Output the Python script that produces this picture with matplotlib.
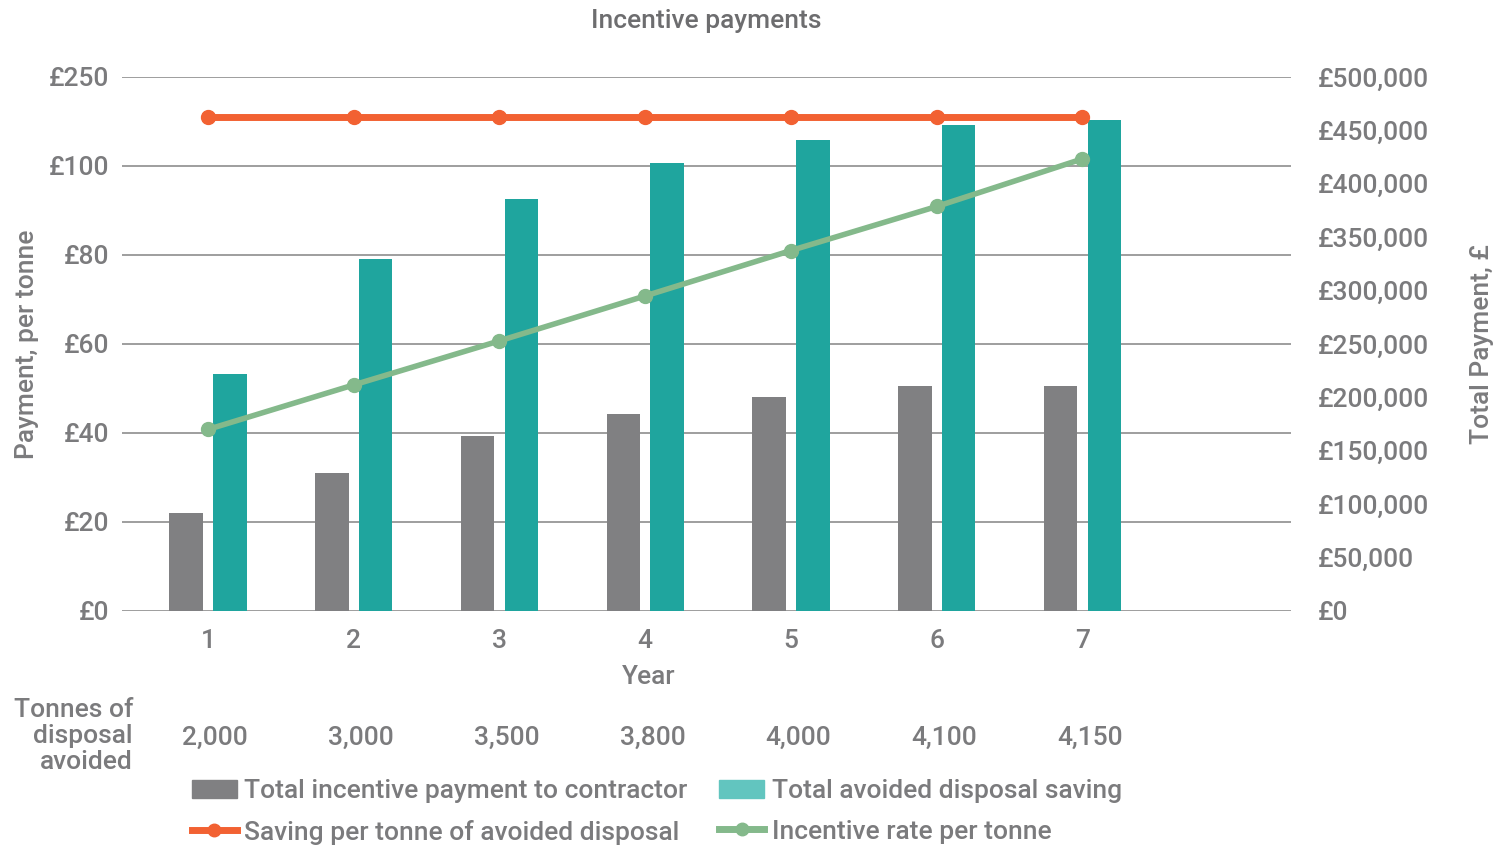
import numpy as np
import matplotlib
matplotlib.use("Agg")
import matplotlib.pyplot as plt
from matplotlib.lines import Line2D
from matplotlib.patches import Patch

plt.rcParams['font.family'] = ['Roboto', 'DejaVu Sans']
plt.rcParams['font.weight'] = 'medium'
plt.rcParams['axes.labelweight'] = 'medium'
plt.rcParams['axes.titleweight'] = 'medium'

years = ['1', '2', '3', '4', '5', '6', '7']
tonnes = ['2,000', '3,000', '3,500', '3,800', '4,000', '4,100', '4,150']
incentive_total = [92000, 129500, 164000, 184000, 200000, 210500, 210500]
saving_total = [222000, 330000, 386000, 419000, 441000, 455000, 460000]
saving_per_tonne = [111, 111, 111, 111, 111, 111, 111]
incentive_rate = [40.8, 50.8, 60.7, 70.8, 81.0, 90.9, 101.6]

left_ticks = [0, 20, 40, 60, 80, 100, 120]
left_labels = ['£0', '£20', '£40', '£60', '£80', '£100', '£250']
right_ticks = list(range(0, 500001, 50000))
right_labels = ['£{:,}'.format(v) for v in right_ticks]

GRAY = '#808082'
TEAL = '#1fa59e'
TEAL_LEG = '#62c5bf'
ORANGE = '#f26132'
GREEN = '#84b98b'
TXT = '#7b7b7d'
FS = 19

fig = plt.figure(figsize=(15, 8.46), dpi=100)
ax = fig.add_axes([0.0813, 0.2778, 0.7793, 0.6312])
x = np.arange(len(years))

# left axis: gridlines + labels
ax.set_ylim(0, 120)
ax.set_xlim(-0.59, 7.43)
ax.set_yticks(left_ticks)
ax.set_yticklabels(left_labels)
ax.yaxis.grid(True, color='#8e8e8e', linewidth=1.2)
ax.set_axisbelow(True)
for s in ax.spines.values():
    s.set_visible(False)
ax.tick_params(length=0, labelsize=FS, labelcolor=TXT, pad=9)
ax.tick_params(axis='x', pad=13)
ax.set_xticks(x)
ax.set_xticklabels(years)
ax.set_ylabel('Payment, per tonne', fontsize=FS, color=TXT, labelpad=7)
ax.set_xlabel('Year', fontsize=FS, color=TXT)
ax.xaxis.set_label_coords(0.451, -0.102)

# right axis: bars
ax2 = ax.twinx()
ax2.set_ylim(0, 500000)
w = 0.23
ax2.bar(x - 0.15, incentive_total, width=w, color=GRAY)
ax2.bar(x + 0.15, saving_total, width=w, color=TEAL)
ax2.set_yticks(right_ticks)
ax2.set_yticklabels(right_labels)
ax2.tick_params(length=0, labelsize=FS, labelcolor=TXT, pad=19)
for s in ax2.spines.values():
    s.set_visible(False)
ax2.set_ylabel('Total Payment, £', fontsize=FS, color=TXT, labelpad=30)

# lines on top
ax3 = ax.twinx()
ax3.set_ylim(0, 120)
ax3.axis('off')
ax3.plot(x, saving_per_tonne, color=ORANGE, linewidth=5, marker='o', markersize=10)
ax3.plot(x, incentive_rate, color=GREEN, linewidth=4, marker='o', markersize=10)

# tonnes row
fig.text(133 / 1500, 1 - 736 / 846, 'Tonnes of\ndisposal\navoided', ha='right', va='center',
         fontsize=FS, color=TXT, linespacing=1.13)
for i, t in enumerate(tonnes):
    ax.text(i + 0.05, -0.237, t, transform=ax.get_xaxis_transform(), ha='center', va='center',
            fontsize=FS, color=TXT)

ax.set_title('Incentive payments', fontsize=FS, color='#6d6d6f', pad=35, x=0.5)

handles = [Patch(color=GRAY), Line2D([], [], color=ORANGE, lw=5, marker='o', ms=9),
           Patch(color=TEAL_LEG), Line2D([], [], color=GREEN, lw=5, marker='o', ms=9)]
labels = ['Total incentive payment to contractor', 'Saving per tonne of avoided disposal',
          'Total avoided disposal saving', 'Incentive rate per tonne']
fig.legend(handles, labels, ncol=2, loc='center', bbox_to_anchor=(657 / 1500, 1 - 812 / 846),
           frameon=False, fontsize=FS, labelcolor=TXT, handlelength=1.7, handletextpad=0.3,
           columnspacing=1.2, labelspacing=0.62)

fig.savefig('out.png', dpi=100)
